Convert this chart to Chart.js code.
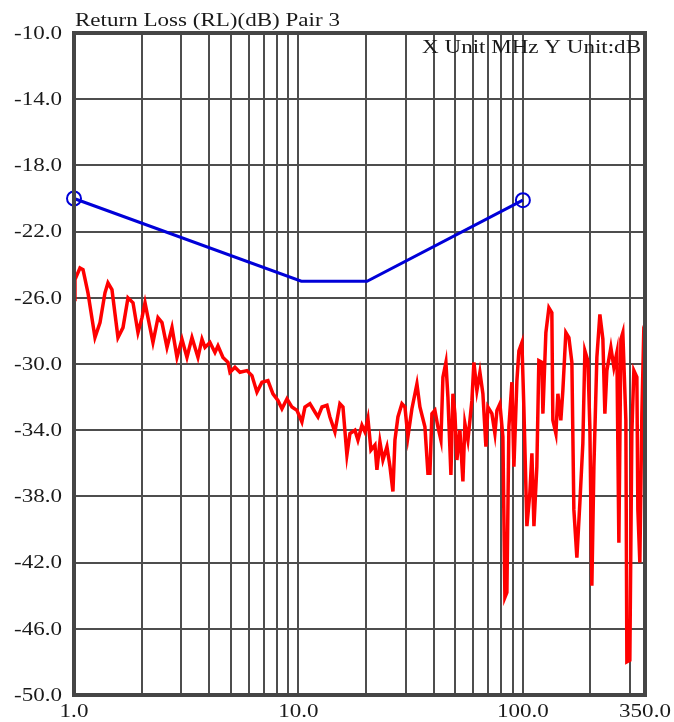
<!doctype html>
<html lang="en">
<head>
<meta charset="UTF-8">
<title>Return Loss Pair 3</title>
<style>
  body { margin: 0; background: #fff; }
</style>
</head>
<body>
<canvas id="myChart" width="674" height="722"></canvas>
<script src="https://cdn.jsdelivr.net/npm/chart.js"></script>
<script>
// limit line (MHz, dB)
var limitFreq = [1, 10.3, 20.2, 100];
var limitDb = [-20.0, -25.0, -25.0, -20.1];

var rlFreq = [
  1.00, 1.01, 1.063, 1.097, 1.154, 1.24, 1.306, 1.374, 1.417, 1.476,
  1.57, 1.653, 1.74, 1.832, 1.928, 2.009, 2.072, 2.136, 2.248, 2.367,
  2.466, 2.596, 2.733, 2.876, 3.027, 3.186, 3.354, 3.567, 3.717, 3.833,
  4.035, 4.247, 4.38, 4.61, 4.853, 4.954, 5.213, 5.488, 5.896, 6.206,
  6.533, 6.877, 7.313, 7.698, 8.103, 8.443, 8.889, 9.355, 9.847, 10.36,
  10.69, 11.25, 11.84, 12.22, 12.73, 13.40, 13.81, 14.54, 15.30, 15.79,
  16.44, 16.96, 17.85, 18.41, 19.18, 19.78, 20.40, 21.04, 21.92, 22.37,
  23.07, 23.79, 24.79, 25.57, 26.36, 26.91, 27.75, 28.91, 29.82, 30.74,
  32.03, 33.72, 34.77, 36.60, 37.75, 38.53, 39.33, 40.55, 41.82, 43.13,
  44.03, 45.40, 46.34, 47.79, 48.78, 49.79, 50.82, 52.41, 54.04, 55.16,
  56.89, 59.27, 60.50, 62.39, 64.35, 66.35, 68.43, 69.85, 72.77, 75.05,
  76.61, 79.00, 81.46, 83.15, 84.87, 86.62, 89.35, 91.20, 94.05, 96.00,
  99.0, 101.0, 104.2, 107.4, 109.7, 112.0, 115.4, 117.8, 121.5, 122.8,
  126.6, 130.6, 134.6, 136.0, 140.3, 143.2, 147.6, 150.7, 155.4, 160.3,
  165.3, 168.7, 174.0, 179.4, 185.0, 188.9, 194.8, 198.8, 202.9, 207.2,
  213.6, 220.3, 227.2, 231.9, 236.7, 246.6, 254.3, 262.3, 267.7, 273.3,
  278.8, 287.6, 290.6, 299.6, 305.8, 312.2, 322.0, 325.3, 332.0, 338.9,
  345.9, 350.0
];
var rlDb = [
  -26.1, -24.9, -24.2, -24.3, -25.7, -28.4, -27.5, -25.7, -25.1, -25.5,
  -28.4, -27.8, -26.0, -26.3, -28.1, -27.2, -26.3, -27.2, -28.7, -27.2,
  -27.5, -29.0, -27.8, -29.6, -28.5, -29.6, -28.4, -29.6, -28.5, -29.0,
  -28.7, -29.3, -28.9, -29.6, -29.9, -30.5, -30.2, -30.5, -30.4, -30.7,
  -31.7, -31.1, -31.0, -31.8, -32.2, -32.7, -32.1, -32.6, -32.8, -33.5,
  -32.6, -32.4, -32.9, -33.2, -32.6, -32.5, -33.2, -34.1, -32.4, -32.6,
  -35.5, -34.2, -34.0, -34.6, -33.7, -34.1, -33.3, -35.2, -34.9, -36.4,
  -34.7, -35.8, -35.0, -36.2, -37.7, -34.6, -33.2, -32.4, -32.6, -34.4,
  -32.7, -31.2, -32.6, -33.8, -36.6, -36.6, -33.0, -32.8, -33.8, -34.6,
  -30.8, -29.9, -32.0, -36.7, -31.8, -33.0, -35.8, -34.0, -37.1, -33.6,
  -34.6, -32.2, -29.9, -31.6, -30.5, -31.8, -35.0, -32.6, -33.0, -34.2,
  -32.8, -32.4, -34.4, -44.1, -43.8, -33.8, -31.1, -36.2, -31.0, -29.2,
  -28.7, -32.6, -39.8, -37.8, -35.4, -39.8, -36.2, -29.8, -29.9, -33.0,
  -28.1, -26.6, -26.9, -33.4, -34.2, -31.8, -33.4, -31.6, -28.1, -28.4,
  -29.9, -38.8, -41.7, -38.4, -34.8, -29.2, -29.8, -33.8, -43.4, -36.2,
  -29.6, -27.0, -28.5, -33.0, -30.4, -29.0, -30.2, -29.3, -40.8, -28.5,
  -28.1, -33.4, -48.0, -47.9, -34.2, -30.4, -30.8, -38.8, -42.0, -33.0,
  -27.8, -27.6
];

// axis ticks
var yMin = -50, yMax = -10, yStep = 4;
var xMin = 1, xMax = 350;
var xGridTicks = [1, 2, 3, 4, 5, 6, 7, 8, 9, 10, 20, 30, 40, 50, 60, 70, 80, 90, 100, 200, 300, 350];
var xLabelTicks = [1, 10, 100, 350];

var titleText = 'Return Loss (RL)(dB) Pair 3';
var unitText = 'X Unit MHz Y Unit:dB';

var serif = '"Liberation Serif", "Times New Roman", serif';
var stretch = 1.28; // the original lettering is wide

function pairs(xs, ys) {
  return xs.map(function (x, i) { return { x: x, y: ys[i] }; });
}

function wideText(ctx, str, x, y, align, base) {
  ctx.save();
  ctx.translate(x, y);
  ctx.scale(stretch, 1);
  ctx.textAlign = align;
  ctx.textBaseline = base;
  ctx.fillText(str, 0, 0);
  ctx.restore();
}

// frame, tick labels, title and unit note
var framePlugin = {
  id: 'frame',
  afterDraw: function (chart) {
    var ctx = chart.ctx;
    var a = chart.chartArea;
    var xs = chart.scales.x, ys = chart.scales.y;
    ctx.save();
    ctx.strokeStyle = '#454545';
    ctx.lineWidth = 4;
    ctx.strokeRect(a.left, a.top, a.right - a.left, a.bottom - a.top);

    ctx.fillStyle = '#1a1a1a';
    ctx.font = '18px ' + serif;
    for (var v = yMin; v <= yMax; v += yStep) {
      wideText(ctx, v.toFixed(1), a.left - 12, ys.getPixelForValue(v) + 1, 'right', 'middle');
    }
    xLabelTicks.forEach(function (t) {
      wideText(ctx, t.toFixed(1), xs.getPixelForValue(t), a.bottom + 22, 'center', 'alphabetic');
    });
    wideText(ctx, titleText, a.left + 1, a.top - 7, 'left', 'alphabetic');
    wideText(ctx, unitText, a.right - 4, a.top + 20, 'right', 'alphabetic');
    ctx.restore();
  }
};

var ctx = document.getElementById('myChart').getContext('2d');
var chart = new Chart(ctx, {
  type: 'line',
  data: {
    datasets: [{
      label: 'limit',
      data: pairs(limitFreq, limitDb),
      borderColor: '#0000d8',
      borderWidth: 3,
      pointRadius: [7, 0, 0, 7],
      pointBorderWidth: 2,
      pointBorderColor: '#0000d8',
      pointBackgroundColor: 'rgba(0,0,0,0)',
      tension: 0,
      clip: false,
      order: 1
    }, {
      label: 'RL',
      data: pairs(rlFreq, rlDb),
      borderColor: '#ff0000',
      borderWidth: 3.5,
      pointRadius: 0,
      tension: 0,
      order: 2
    }]
  },
  options: {
    responsive: false,
    animation: false,
    devicePixelRatio: 1,
    layout: { padding: { left: 0, right: 29, top: 33, bottom: 0 } },
    plugins: {
      legend: { display: false },
      tooltip: { enabled: false }
    },
    scales: {
      x: {
        type: 'logarithmic',
        min: xMin,
        max: xMax,
        afterBuildTicks: function (scale) {
          scale.ticks = xGridTicks.map(function (v) { return { value: v }; });
        },
        afterFit: function (scale) { scale.height = 27; },
        ticks: { display: false, autoSkip: false },
        grid: { color: '#4d4d4d', lineWidth: 2, drawTicks: false },
        border: { display: false }
      },
      y: {
        min: yMin,
        max: yMax,
        afterBuildTicks: function (scale) {
          var t = [];
          for (var v = yMin; v <= yMax; v += yStep) t.push({ value: v });
          scale.ticks = t;
        },
        afterFit: function (scale) { scale.width = 74; },
        ticks: { display: false },
        grid: { color: '#4d4d4d', lineWidth: 2, drawTicks: false },
        border: { display: false }
      }
    }
  },
  plugins: [framePlugin]
});
</script>
</body>
</html>
